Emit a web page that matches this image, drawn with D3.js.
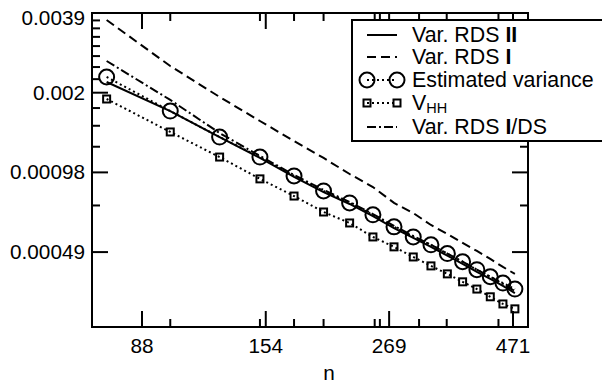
<!DOCTYPE html>
<html>
<head>
<meta charset="utf-8">
<script src="https://cdn.jsdelivr.net/npm/d3@7"></script>
<style>
  body { margin: 0; background: #fff; }
  svg { display: block; font-family: "Liberation Sans", Arial, Helvetica, sans-serif; }
</style>
</head>
<body>
<div id="graphique"></div>
<script>
//*** données *******************************************************************/
const tailles = [75, 100, 125, 150, 175, 200, 225, 250, 275, 300, 325, 350, 375, 400, 425, 450, 475];

const varRdsII = [0.002143, 0.001665, 0.001328, 0.001107, 0.000939, 0.000823, 0.000742, 0.000668, 0.000602,
  0.000552, 0.000511, 0.000473, 0.000441, 0.000411, 0.000387, 0.000364, 0.000342];
const varRdsI = [0.003675, 0.002463, 0.001882, 0.001527, 0.001283, 0.001107, 0.000963, 0.000860, 0.000749,
  0.000686, 0.000618, 0.000572, 0.000529, 0.000493, 0.000460, 0.000429, 0.000404];
const varianceEstimee = [0.002239, 0.001665, 0.001328, 0.001116, 0.000947, 0.000831, 0.000749, 0.000675, 0.000608,
  0.000557, 0.000520, 0.000482, 0.000449, 0.000419, 0.000394, 0.000373, 0.000354];
const vHH = [0.001849, 0.001388, 0.001116, 0.000923, 0.000795, 0.000692, 0.000629, 0.000557, 0.000511,
  0.000468, 0.000433, 0.000404, 0.000377, 0.000354, 0.000331, 0.000311, 0.000298];
const varRdsIDS = [0.002573, 0.001834, 0.001375, 0.001127, 0.000955, 0.000838, 0.000755, 0.000680, 0.000613,
  0.000562, 0.000520, 0.000482, 0.000449, 0.000419, 0.000394, 0.000370, 0.000348];

// graduations
const ticksX = [88, 154, 269, 471];
const petitsTicksX = [100, 150, 175, 200, 252, 258, 308, 349, 441];
const ticksY = [1 / 2048, 1 / 1024, 1 / 512, 1 / 256];
const labelsY = ["0.00049", "0.00098", "0.002", "0.0039"];
// petites graduations : multiples de 1/4096
const petitsTicksY = d3.range(3, 16).map((k) => k / 4096).filter((v) => !ticksY.includes(v));

//*** cadre *********************************************************************/
const largeur = 602;
const hauteur = 385;
const gauche = 92, droite = 528, haut = 13, bas = 327;

const svg = d3.select("#graphique")
  .append("svg")
  .attr("width", largeur)
  .attr("height", hauteur);

// échelles log sur les deux axes
const x = d3.scaleLog().domain([70.2, 504]).range([gauche, droite]);
const y = d3.scaleLog().domain([Math.pow(2, -11.94), 1 / 256]).range([bas, haut]);

//*** séries ********************************************************************/
const ligne = (valeurs) => d3.line()
  .x((d, i) => x(tailles[i]))
  .y((d) => y(d))(valeurs);

const series = [
  { valeurs: varRdsIDS, dash: "9,3,2,3" },
  { valeurs: varRdsI, dash: "9,5" },
  { valeurs: vHH, dash: "2,3" },
  { valeurs: varianceEstimee, dash: "2,3" },
  { valeurs: varRdsII, dash: null },
];

series.forEach((s) => {
  svg.append("path")
    .attr("d", ligne(s.valeurs))
    .attr("fill", "none")
    .attr("stroke", "#000")
    .attr("stroke-width", 2)
    .attr("stroke-dasharray", s.dash);
});

// carrés V_HH
svg.selectAll("rect.vhh")
  .data(vHH)
  .join("rect")
  .attr("class", "vhh")
  .attr("x", (d, i) => x(tailles[i]) - 3.5)
  .attr("y", (d) => y(d) - 3.5)
  .attr("width", 7)
  .attr("height", 7)
  .attr("fill", "none")
  .attr("stroke", "#000")
  .attr("stroke-width", 2);

// cercles variance estimée
svg.selectAll("circle.est")
  .data(varianceEstimee)
  .join("circle")
  .attr("class", "est")
  .attr("cx", (d, i) => x(tailles[i]))
  .attr("cy", (d) => y(d))
  .attr("r", 7.5)
  .attr("fill", "none")
  .attr("stroke", "#000")
  .attr("stroke-width", 2);

//*** axes (graduations vers l'intérieur sur les 4 côtés) ************************/
const axe = svg.append("g").attr("stroke", "#000").attr("stroke-width", 2);
axe.append("rect")
  .attr("x", gauche).attr("y", haut)
  .attr("width", droite - gauche).attr("height", bas - haut)
  .attr("fill", "none");

const tracerTicksX = (valeurs, longueur) => {
  valeurs.forEach((v) => {
    axe.append("line").attr("x1", x(v)).attr("x2", x(v)).attr("y1", bas).attr("y2", bas - longueur);
    axe.append("line").attr("x1", x(v)).attr("x2", x(v)).attr("y1", haut).attr("y2", haut + longueur);
  });
};
const tracerTicksY = (valeurs, longueur) => {
  valeurs.forEach((v) => {
    axe.append("line").attr("y1", y(v)).attr("y2", y(v)).attr("x1", gauche).attr("x2", gauche + longueur);
    axe.append("line").attr("y1", y(v)).attr("y2", y(v)).attr("x1", droite).attr("x2", droite - longueur);
  });
};
tracerTicksX(ticksX, 16);
tracerTicksX(petitsTicksX, 8);
tracerTicksY(ticksY, 16);
tracerTicksY(petitsTicksY, 8);

// ajuste la taille de police pour qu'un texte témoin ait la largeur voulue
const taillePour = (texte, largeurVoulue) => {
  const essai = svg.append("text").attr("font-size", 20).text(texte);
  const l = essai.node().getComputedTextLength();
  essai.remove();
  return l > 0 ? 20 * largeurVoulue / l : 20;
};
const policeTicks = taillePour("0.00098", 75);
const policeLegende = taillePour("Var. RDS I/DS", 135);

// textes des graduations
svg.selectAll("text.tx")
  .data(ticksX)
  .join("text")
  .attr("class", "tx")
  .attr("x", (d) => x(d))
  .attr("y", 353)
  .attr("text-anchor", "middle")
  .attr("font-size", policeTicks)
  .text((d) => d);

svg.selectAll("text.ty")
  .data(ticksY)
  .join("text")
  .attr("class", "ty")
  .attr("x", 85)
  .attr("y", (d) => Math.max(y(d), 18) + 7)
  .attr("text-anchor", "end")
  .attr("font-size", policeTicks)
  .text((d, i) => labelsY[i]);

svg.append("text")
  .attr("x", 329)
  .attr("y", 380)
  .attr("text-anchor", "middle")
  .attr("font-size", policeTicks)
  .text("n");

//*** légende *******************************************************************/
const legende = svg.append("g");
legende.append("rect")
  .attr("x", 352).attr("y", 20)
  .attr("width", 280).attr("height", 121)
  .attr("fill", "#fff")
  .attr("stroke", "#000")
  .attr("stroke-width", 2);

const x1 = 367, x2 = 397, xTexte = 412;
const lignesLegende = [
  { base: 42, dash: null, morceaux: [["Var. RDS ", false], ["II", true]] },
  { base: 64, dash: "9,5", morceaux: [["Var. RDS ", false], ["I", true]] },
  { base: 87, dash: "2,3", marque: "cercle", morceaux: [["Estimated variance", false]] },
  { base: 110, dash: "2,3", marque: "carre", morceaux: [] },
  { base: 134, dash: "9,3,2,3", morceaux: [["Var. RDS ", false], ["I", true], ["/DS", false]] },
];

lignesLegende.forEach((l) => {
  const cy = l.base - 7;
  legende.append("line")
    .attr("x1", x1).attr("x2", x2).attr("y1", cy).attr("y2", cy)
    .attr("stroke", "#000").attr("stroke-width", 2)
    .attr("stroke-dasharray", l.dash);
  [x1, x2].forEach((cx) => {
    if (l.marque == "cercle") {
      legende.append("circle").attr("cx", cx).attr("cy", cy).attr("r", 7.5)
        .attr("fill", "none").attr("stroke", "#000").attr("stroke-width", 2);
    } else if (l.marque == "carre") {
      legende.append("rect").attr("x", cx - 3.5).attr("y", cy - 3.5).attr("width", 7).attr("height", 7)
        .attr("fill", "none").attr("stroke", "#000").attr("stroke-width", 2);
    }
  });
  const t = legende.append("text").attr("x", xTexte).attr("y", l.base).attr("font-size", policeLegende);
  l.morceaux.forEach((m) => {
    t.append("tspan").attr("font-weight", m[1] ? "bold" : null).text(m[0]);
  });
});

// V avec indice HH
const vhhTexte = legende.append("text").attr("x", xTexte).attr("y", 110).attr("font-size", policeLegende);
vhhTexte.append("tspan").text("V");
vhhTexte.append("tspan").attr("font-size", policeLegende * 0.68).attr("dy", 3).text("HH");
</script>
</body>
</html>
